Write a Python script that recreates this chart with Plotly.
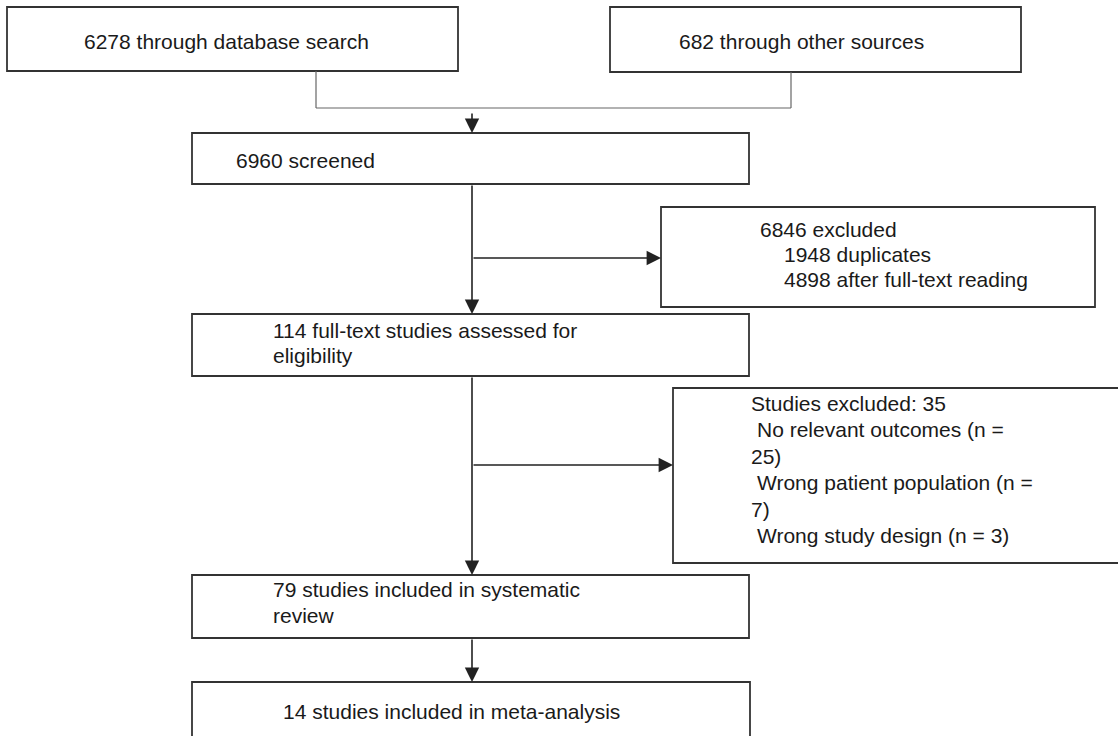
import plotly.graph_objects as go

W, H = 1118, 736

# ---- content ----
source_labels = ["6278 through database search", "682 through other sources"]
screened_label = ["6960 screened"]
excluded_first = ["6846 excluded", "1948 duplicates", "4898 after full-text reading"]
fulltext_label = ["114 full-text studies assessed for", "eligibility"]
excluded_second = ["Studies excluded: 35", "No relevant outcomes (n =", "25)",
                   "Wrong patient population (n =", "7)", "Wrong study design (n = 3)"]
review_label = ["79 studies included in systematic", "review"]
meta_label = ["14 studies included in meta-analysis"]

# ---- layout geometry (pixels) ----
boxes = [
    (7, 7, 458, 71),       # database search
    (610, 7, 1021, 72),    # other sources
    (192, 133, 749, 184),  # screened
    (661, 207, 1095, 307), # excluded 1
    (192, 314, 749, 376),  # full text
    (673, 388, 1130, 563), # excluded 2 (runs off the right edge)
    (192, 575, 749, 638),  # review
    (192, 682, 750, 760),  # meta (runs off the bottom)
]

FONT = dict(family="Liberation Sans, Arial, Helvetica, sans-serif", size=21, color="#1a1a1a")
BOX_LINE = dict(color="#333333", width=1.8)

fig = go.Figure()
fig.add_trace(go.Scatter(x=[0, W], y=[0, H], mode="markers", marker=dict(opacity=0),
                         hoverinfo="skip", showlegend=False))

shapes = []
for (x0, y0, x1, y1) in boxes:
    shapes.append(dict(type="rect", xref="x", yref="y", x0=x0, y0=y0, x1=x1, y1=y1,
                       line=BOX_LINE, fillcolor="white", layer="above"))

# connector between the two source boxes
conn = dict(color="#666666", width=1.2)
shapes += [
    dict(type="line", xref="x", yref="y", x0=316, y0=71, x1=316, y1=108, line=conn),
    dict(type="line", xref="x", yref="y", x0=316, y0=108, x1=791, y1=108, line=conn),
    dict(type="line", xref="x", yref="y", x0=791, y0=72, x1=791, y1=108, line=conn),
]

annotations = []

def arrow(x0, y0, x1, y1):
    annotations.append(dict(x=x1, y=y1, ax=x0, ay=y0, xref="x", yref="y", axref="x", ayref="y",
                            text="", showarrow=True, arrowhead=2, arrowsize=1.8, arrowwidth=1.6,
                            arrowcolor="#222222", standoff=0, startstandoff=0))

arrow(472, 112, 472, 133)
arrow(472, 184, 472, 314)
arrow(472, 258, 661, 258)
arrow(472, 376, 472, 575)
arrow(472, 465, 673, 465)
arrow(472, 638, 472, 682)

def text_lines(lines, x, ys, indents=None):
    for i, (t, y) in enumerate(zip(lines, ys)):
        dx = indents[i] if indents else 0
        annotations.append(dict(x=x + dx, y=y, xref="x", yref="y", text=t, showarrow=False,
                                xanchor="left", yanchor="middle", font=FONT))

text_lines(source_labels[:1], 82, [41])
text_lines(source_labels[1:], 677, [41])
text_lines(screened_label, 234, [160])
text_lines(excluded_first, 758, [229, 254, 279], [0, 24, 24])
text_lines(fulltext_label, 271, [330, 355])
text_lines(excluded_second, 749, [403, 429.5, 456, 482.5, 509, 535.5], [0, 6, 0, 6, 0, 6])
text_lines(review_label, 271, [589, 615])
text_lines(meta_label, 281, [711])

fig.update_layout(
    width=W, height=H, margin=dict(l=0, r=0, t=0, b=0),
    paper_bgcolor="white", plot_bgcolor="white",
    xaxis=dict(range=[0, W], visible=False, fixedrange=True),
    yaxis=dict(range=[H, 0], visible=False, fixedrange=True),
    shapes=shapes, annotations=annotations, showlegend=False,
)

fig.write_html("out.html", config={"displayModeBar": False},
               post_script="document.body.style.margin='0';document.body.style.overflow='hidden';")
